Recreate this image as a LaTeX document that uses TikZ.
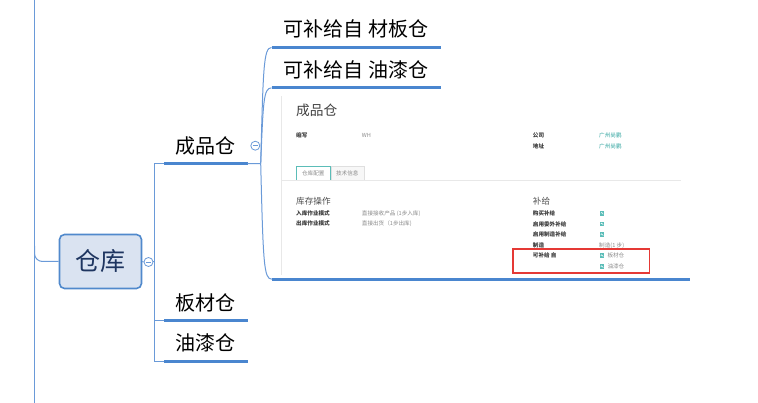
\documentclass[tikz,border=0pt]{standalone}
\usepackage{fontspec}
\setmainfont{Noto Sans CJK SC}
\usetikzlibrary{positioning}

\definecolor{lineblue}{HTML}{4A86CF}
\definecolor{branchblue}{HTML}{6A9AD8}
\definecolor{rootfill}{HTML}{DAE3F1}
\definecolor{rootedge}{HTML}{5089CC}
\definecolor{roottext}{HTML}{1E3560}
\definecolor{shotteal}{HTML}{5BBDB8}
\definecolor{linkteal}{HTML}{2FA39E}
\definecolor{shotgray}{HTML}{E8E8E8}
\definecolor{lbltext}{HTML}{3A3A3A}
\definecolor{valtext}{HTML}{8A8A8A}
\definecolor{alertred}{HTML}{E53935}

\tikzset{
  root/.style={draw=rootedge, line width=1.6, fill=rootfill, rounded corners=5,
    minimum width=82, minimum height=54, inner sep=0, text=roottext,
    font=\fontsize{25}{25}\selectfont},
  topic/.style={minimum width=#1, minimum height=36, inner sep=0,
    font=\fontsize{20}{20}\selectfont},
  uline/.style={draw=lineblue, line width=3},
  branch/.style={draw=branchblue, line width=1},
  fold/.style={circle, draw=branchblue, fill=white, line width=0.8,
    minimum size=9, inner sep=0,
    path picture={\draw[branchblue, line width=0.8]
      ([xshift=-2.4]path picture bounding box.center) --
      ([xshift=2.4]path picture bounding box.center);}},
  lbl/.style={anchor=west, inner sep=0, text=lbltext,
    font=\fontsize{5.6}{5.6}\selectfont\bfseries},
  val/.style={anchor=west, inner sep=0, text=valtext,
    font=\fontsize{5.6}{5.6}\selectfont},
  head/.style={anchor=west, inner sep=0, text=black!70,
    font=\fontsize{8.6}{8.6}\selectfont},
  chk/.style={fill=shotteal, minimum size=4.6, inner sep=0,
    path picture={\draw[white, line width=0.5]
      ([shift={(-1.2,0)}]path picture bounding box.center) --
      ([shift={(-0.3,-0.9)}]path picture bounding box.center) --
      ([shift={(1.3,1)}]path picture bounding box.center);}},
}

\begin{document}
\begin{tikzpicture}[x=1pt, y=-1pt]
\useasboundingbox (0,0) rectangle (758,403);

% map nodes
\node[root] (ck) at (100.5,261.5) {仓库};
\node[fold] (ckf) at (148.5,262) {};
\coordinate (tk) at (154.5,262);
\node[topic=83] (cp) at (205.8,145.5) {成品仓};
\node[topic=83] (bc) at (205.8,302.7) {板材仓};
\node[topic=83] (yq) at (205.8,343) {油漆仓};
\node[fold] (cpf) at (255.3,145.7) {};
\coordinate (fk) at (260.7,163.5);
\node[topic=169] (zb) at (356.2,29.3) {可补给自 材板仓};
\node[topic=169] (zy) at (356.2,69.7) {可补给自 油漆仓};
\node[minimum width=418, minimum height=186, inner sep=0] (shot) at (481,186) {};

\foreach \n in {cp,bc,yq,zb,zy,shot}
  \draw[uline] (\n.south west) -- (\n.south east);

% connectors
\coordinate (tt) at (34.5,0);
\coordinate (tb) at (34.5,403);
\coordinate (tj) at (34.5,246);
\draw[branch] (tt) -- (tb);
\draw[branch, rounded corners=8] (tj) |- (ck.west);
\draw[branch] (ck.east) -- (ckf.west);
\draw[branch] (ckf.east) -- (tk);
\foreach \n in {cp,bc,yq}
  \draw[branch] (tk) |- (\n.south west);
\draw[branch] (cp.south east) -- (fk);
\draw[branch] (fk) .. controls +(2.5,-95) and +(-8,0) .. (zb.south west);
\draw[branch] (fk) .. controls +(2.5,-62) and +(-8,0) .. (zy.south west);
\draw[branch] (fk) .. controls +(2.5,100) and +(-8,0) .. (shot.south west);

% screenshot
\draw[shotgray, line width=1.2] (281.7,96) -- (281.7,275);
\node[anchor=west, inner sep=0, text=black!75, font=\fontsize{13.7}{13.7}\selectfont] (ttl) at (296,110.7) {成品仓};
\node[lbl] at (296,135.7) {缩写};
\node[val] at (361.7,135.7) {WH};
\node[lbl] at (532.7,135.7) {公司};
\node[val, text=linkteal] at (599,135.7) {广州尚鹏};
\node[lbl] at (532.7,146.3) {地址};
\node[val, text=linkteal] at (599,146.3) {广州尚鹏};

\draw[gray!25, fill=gray!6] (330.7,166) rectangle (364,180);
\draw[gray!25, fill=white] (296,166) rectangle (330.7,180);
\draw[shotteal, line width=0.9] (296,180) -- (296,166) -- (330.7,166) -- (330.7,180);
\node[val, anchor=center] at (313.3,173.5) {仓库配置};
\node[val, anchor=center] at (347.3,173.5) {技术信息};
\draw[shotgray, line width=1] (282,180.5) -- (681,180.5);

\node[head] at (296,201.7) {库存操作};
\node[lbl] at (296,213.7) {入库作业模式};
\node[val] at (361.7,213.7) {直接接收产品 (1步入库)};
\node[lbl] at (296,223.7) {出库作业模式};
\node[val] at (361.7,223.7) {直接出货（1步出库)};

\node[head] at (532.7,201.7) {补给};
\node[lbl] at (532.7,213.3) {购买补给};
\node[chk] at (602,213.3) {};
\node[lbl] at (532.7,224) {启用委外补给};
\node[chk] at (602,224) {};
\node[lbl] at (532.7,234.7) {启用制造补给};
\node[chk] at (602,234.7) {};
\node[lbl] at (532.7,245.2) {制造};
\node[val] at (599,245.2) {制造(1 步)};
\node[lbl] at (532.7,255.7) {可补给 自};
\node[chk] at (602,255.7) {};
\node[val] at (607.3,255.7) {板材仓};
\node[chk] at (602,266.7) {};
\node[val] at (607.3,266.7) {油漆仓};
\draw[alertred, line width=1.6] (512.7,249.3) rectangle (649.3,273.3);
\end{tikzpicture}
\end{document}
